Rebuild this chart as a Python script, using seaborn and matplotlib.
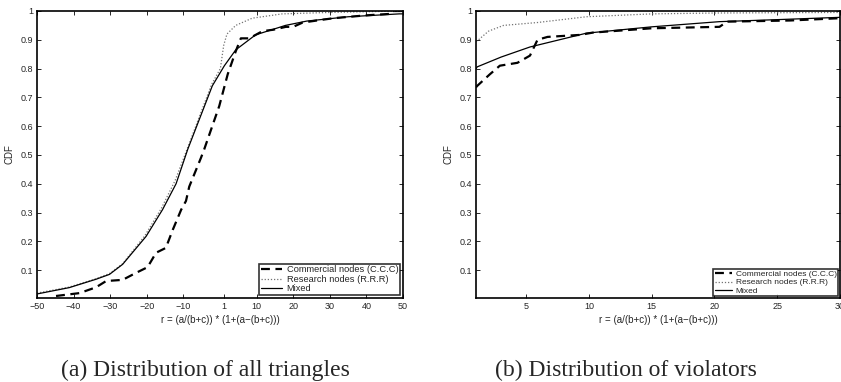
import seaborn as sns
import matplotlib.pyplot as plt
import pandas as pd

# (a) all triangles
all_x_comm = [-44.8, -38.4, -33.9, -31.1, -26.6, -23, -19.8, -18.4, -17.5, -14.8, -12.9, -10.6, -9.3, -8.4,
              -5.2, -4.3, -0.2, 2.1, 4.3, 5.7, 8, 11.6, 14.6, 18, 20, 22.6, 31, 40, 46.5, 47, 50]
all_y_comm = [0.01, 0.02, 0.04, 0.062, 0.066, 0.09, 0.11, 0.14, 0.16, 0.177, 0.24, 0.31, 0.34, 0.39,
              0.49, 0.52, 0.67, 0.78, 0.86, 0.905, 0.905, 0.93, 0.935, 0.945, 0.945, 0.96, 0.975, 0.985, 0.99, 1.0, 1.0]
all_x_res = [-50, -41.2, -33.9, -30.2, -26.6, -20.5, -16, -12.3, -9, -2.3, 0.1, 1, 1.9, 4.3, 8.8, 17, 30, 50]
all_y_res = [0.02, 0.041, 0.07, 0.088, 0.122, 0.22, 0.315, 0.41, 0.52, 0.745, 0.80, 0.88, 0.92, 0.95, 0.975, 0.99, 0.995, 1.0]
all_x_mix = [-50, -41.2, -33.9, -30.2, -26.6, -20.2, -15.7, -12, -8.8, -2.1, 1.2, 4.3, 9.7, 17.9, 23.7, 35, 49, 50]
all_y_mix = [0.017, 0.039, 0.068, 0.085, 0.12, 0.217, 0.31, 0.40, 0.52, 0.74, 0.81, 0.865, 0.917, 0.95, 0.965, 0.98, 0.99, 0.99]

# (b) violators
vio_x_comm = [1, 1.1, 2.1, 2.9, 4.3, 5.3, 5.9, 6.7, 9.3, 10.3, 15, 20.4, 21, 26, 30]
vio_y_comm = [0.735, 0.74, 0.78, 0.81, 0.82, 0.845, 0.90, 0.91, 0.917, 0.925, 0.94, 0.945, 0.963, 0.967, 0.975]
vio_x_res = [1, 1.2, 2, 3.2, 5.9, 9.8, 15, 20, 30]
vio_y_res = [0.895, 0.90, 0.93, 0.95, 0.96, 0.98, 0.99, 0.993, 0.995]
vio_x_mix = [1, 1.1, 3, 5.3, 9.8, 15, 20.4, 25, 30]
vio_y_mix = [0.80, 0.806, 0.84, 0.875, 0.923, 0.945, 0.963, 0.97, 0.978]

labels = ["Commercial nodes (C.C.C)", "Research nodes (R.R.R)", "Mixed"]
styles = [dict(color="black", linestyle=(0, (4, 2.5)), linewidth=1.6),
          dict(color="0.45", linestyle=(0, (1, 1.5)), linewidth=0.9),
          dict(color="black", linestyle="-", linewidth=0.9)]

sns.set_style("ticks")
plt.rcParams["font.family"] = ["Liberation Sans", "DejaVu Sans"]

fig = plt.figure(figsize=(8.41, 3.82), dpi=100)
ax1 = fig.add_axes([37 / 841, 84 / 382, 366 / 841, 287 / 382])
ax2 = fig.add_axes([476 / 841, 84 / 382, 364 / 841, 287 / 382])

panels = [
    (ax1, [(all_x_comm, all_y_comm), (all_x_res, all_y_res), (all_x_mix, all_y_mix)]),
    (ax2, [(vio_x_comm, vio_y_comm), (vio_x_res, vio_y_res), (vio_x_mix, vio_y_mix)]),
]
for ax, series in panels:
    for (xs, ys), lab, st in zip(series, labels, styles):
        df = pd.DataFrame({"x": xs, "y": ys})
        sns.lineplot(data=df, x="x", y="y", ax=ax, label=lab, **st)
    ax.set_ylim(0.003, 1.0)
    ax.set_yticks([0.1, 0.2, 0.3, 0.4, 0.5, 0.6, 0.7, 0.8, 0.9, 1.0])
    ax.set_yticklabels(["0.1", "0.2", "0.3", "0.4", "0.5", "0.6", "0.7", "0.8", "0.9", "1"])
    ax.set_ylabel("CDF", fontsize=7, labelpad=4)
    ax.set_xlabel("r = (a/(b+c)) * (1+(a\u2212(b+c)))", fontsize=7, labelpad=3)
    ax.tick_params(direction="in", top=True, right=True, labelsize=6.5, length=3, width=0.7, pad=3)
    for sp in ax.spines.values():
        sp.set_linewidth(1.2)
        sp.set_color("black")

ax1.set_xlim(-50, 50)
ax1.set_xticks([-50, -40, -30, -20, -10, 1, 10, 20, 30, 40, 50])
ax1.set_xticklabels(["\u221250", "\u221240", "\u221230", "\u221220", "\u221210", "1", "10", "20", "30", "40", "50"])
ax2.set_xlim(1, 30)
ax2.set_xticks([5, 10, 15, 20, 25, 30])

leg1 = ax1.legend(loc="lower right", fontsize=6.7, frameon=True, fancybox=False, borderaxespad=0.3,
                  handlelength=2.3, labelspacing=0.05, borderpad=0.2, handletextpad=0.5)
leg2 = ax2.legend(loc="lower right", fontsize=6.0, frameon=True, fancybox=False, borderaxespad=0.2,
                  handlelength=2.0, labelspacing=0.05, borderpad=0.2, handletextpad=0.5)
for leg in (leg1, leg2):
    leg.get_frame().set_edgecolor("black")
    leg.get_frame().set_linewidth(1.2)

fig.text(205 / 841, 1 - 370 / 382, "(a) Distribution of all triangles", ha="center", va="center",
         fontsize=17, family="Liberation Serif")
fig.text(626 / 841, 1 - 370 / 382, "(b) Distribution of violators", ha="center", va="center",
         fontsize=17, family="Liberation Serif")

fig.savefig("out.png", dpi=100)
